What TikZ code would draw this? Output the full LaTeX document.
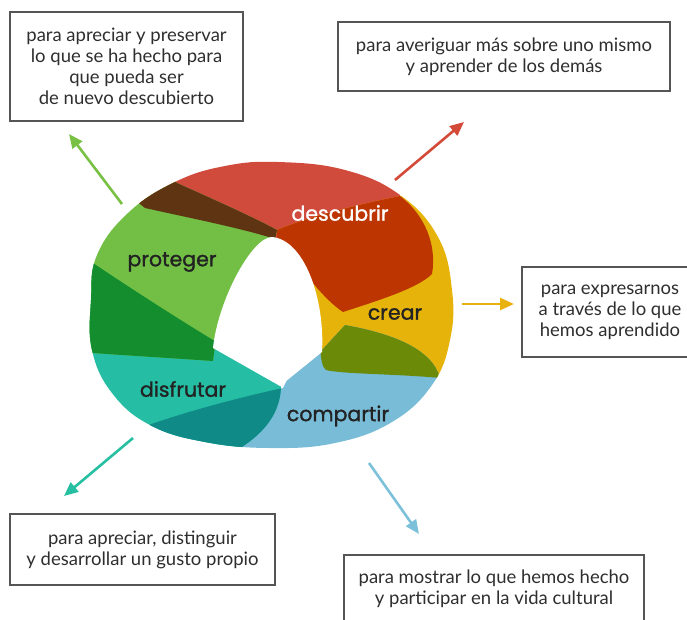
\documentclass[tikz,border=0pt]{standalone}
\usepackage{fontspec}
\setmainfont{Lato}
\newfontfamily\ringfont{Poppins}[FakeBold=1.2]
\usetikzlibrary{arrows.meta}

\definecolor{redLight}{HTML}{D14B3D}
\definecolor{redDark}{HTML}{BD3500}
\definecolor{brownBand}{HTML}{5E3413}
\definecolor{greenLight}{HTML}{73BF45}
\definecolor{greenDark}{HTML}{138D2D}
\definecolor{tealLight}{HTML}{25BEA5}
\definecolor{tealDark}{HTML}{108A87}
\definecolor{blueLight}{HTML}{78BCD7}
\definecolor{yellowMain}{HTML}{E6B30A}
\definecolor{oliveDark}{HTML}{6A8A08}
\definecolor{arrowGreen}{HTML}{79C145}
\definecolor{arrowRed}{HTML}{D44A38}
\definecolor{arrowYellow}{HTML}{E9B10C}
\definecolor{arrowTeal}{HTML}{26BFA2}
\definecolor{arrowBlue}{HTML}{7CC0DA}
\definecolor{boxGray}{HTML}{555555}
\definecolor{textGray}{HTML}{2E2E2E}
\definecolor{labelDark}{HTML}{222222}

\tikzset{every picture/.style={line width=0.75pt},
  infobox/.style={draw=boxGray, line width=1.3pt, align=center, text=textGray,
    font=\fontsize{18.5}{21}\selectfont, inner sep=0pt},
  ringlabel/.style={font=\ringfont\fontsize{20.5}{24}\selectfont, text=labelDark, inner sep=0.75pt},
  pointer/.style={line width=2.6pt, -{Triangle[length=14pt,width=12pt]}}
}

% ring outline and hole
\def\ringOuter{plot[smooth cycle, tension=0.7] coordinates {(278,162) (345,170) (400,195) (438,237) (452,290) (450,340) (432,385) (392,422) (335,443) (270,448) (205,442) (150,425) (112,393) (92,350) (91,300) (97,255) (128,213) (175,182) (225,166)}}
\def\ringHole{(213,348) -- (280,386) -- (322,352) .. controls (325,300) and (305,240) .. (272,237) .. controls (252,237) and (218,300) .. (213,348) -- cycle}
% petals
\def\petalRed{(110,180) -- (145,208) .. controls (190,218) and (240,228) .. (272,238) -- (287,247) .. controls (305,275) and (325,300) .. (343,312) .. controls (380,300) and (418,288) .. (432,274) .. controls (437,245) and (425,215) .. (400,196) -- (395,140) -- (140,140) -- cycle}
\def\petalYellow{(278,262) -- (277,230) .. controls (305,218) and (355,205) .. (400,196) -- (490,180) -- (490,385) -- (440,378) .. controls (400,374) and (340,374) .. (326,370) .. controls (322,367) and (321,360) .. (320,345) -- (300,300) -- cycle}
\def\petalBlue{(322,350) -- (345,325) .. controls (390,333) and (432,348) .. (440,378) -- (480,400) -- (300,520) -- (100,470) -- (143,427) .. controls (190,410) and (250,395) .. (283,388) -- (300,355) -- cycle}
\def\petalTeal{(40,230) -- (93,263) .. controls (130,288) and (180,320) .. (213,340) -- (250,350) -- (281,387) .. controls (280,415) and (262,435) .. (237,450) -- (215,490) -- (40,490) -- cycle}
\def\petalGreen{(150,160) -- (177,183) .. controls (215,200) and (255,218) .. (277,230) -- (262,300) -- (215,345) -- (213,361) .. controls (170,358) and (120,355) .. (93,353) -- (60,353) -- (60,160) -- cycle}

\begin{document}
\begin{tikzpicture}[x=1pt,y=1pt,yscale=-1,xscale=1]
\useasboundingbox (0,0) rectangle (687,619);

%Ring petals
\begin{scope}
\clip \ringOuter;
\fill [redLight] \petalRed;
\fill [yellowMain] \petalYellow;
\fill [blueLight] \petalBlue;
\fill [tealLight] \petalTeal;
\fill [greenLight] \petalGreen;
%Overlaps
\begin{scope} \clip \petalRed; \fill [redDark] \petalYellow; \end{scope}
\begin{scope} \clip \petalYellow; \fill [oliveDark] \petalBlue; \end{scope}
\begin{scope} \clip \petalBlue; \fill [tealDark] \petalTeal; \end{scope}
\begin{scope} \clip \petalTeal; \fill [greenDark] \petalGreen; \end{scope}
\begin{scope} \clip \petalGreen; \fill [brownBand] \petalRed; \end{scope}
\end{scope}
%Hole
\fill [white] \ringHole;

% Text Node
\node [ringlabel] (lblProteger) at (172,262) {proteger};
% Text Node
\node [ringlabel, text=white] (lblDescubrir) at (340,213) {descubrir};
% Text Node
\node [ringlabel] (lblCrear) at (395,314) {crear};
% Text Node
\node [ringlabel] (lblDisfrutar) at (183,389) {disfrutar};
% Text Node
\node [ringlabel] (lblCompartir) at (338,416) {compartir};

% Boxes
\node [infobox, minimum width=233pt, minimum height=109pt] (boxProteger) at (126.5,66.5) {para apreciar y preservar\\lo que se ha hecho para\\que pueda ser\\de nuevo descubierto};
\node [infobox, minimum width=332pt, minimum height=69pt] (boxDescubrir) at (504,56.5) {para averiguar más sobre uno mismo\\y aprender de los demás};
\node [infobox, minimum width=176pt, minimum height=90pt] (boxCrear) at (610,312) {para expresarnos\\a través de lo que\\hemos aprendido};
\node [infobox, minimum width=265pt, minimum height=71pt] (boxDisfrutar) at (142.5,549.5) {para apreciar, distinguir\\y desarrollar un gusto propio};
\node [infobox, minimum width=300pt, minimum height=68pt] (boxCompartir) at (494,589) {para mostrar lo que hemos hecho\\y participar en la vida cultural};

%Arrows
\coordinate (tailGreen) at (122,204);
\coordinate (tipGreen) at (69,134);
\coordinate (tailRed) at (395,180);
\coordinate (tipRed) at (464,122);
\coordinate (tailYellow) at (462,304);
\coordinate (tipYellow) at (514,304);
\coordinate (tailTeal) at (133,438);
\coordinate (tipTeal) at (64,496);
\coordinate (tailBlue) at (369,463);
\coordinate (tipBlue) at (419,534);
\draw [pointer, arrowGreen] (tailGreen) -- (tipGreen);
\draw [pointer, arrowRed] (tailRed) -- (tipRed);
\draw [pointer, arrowYellow] (tailYellow) -- (tipYellow);
\draw [pointer, arrowTeal] (tailTeal) -- (tipTeal);
\draw [pointer, arrowBlue] (tailBlue) -- (tipBlue);

\end{tikzpicture}
\end{document}
